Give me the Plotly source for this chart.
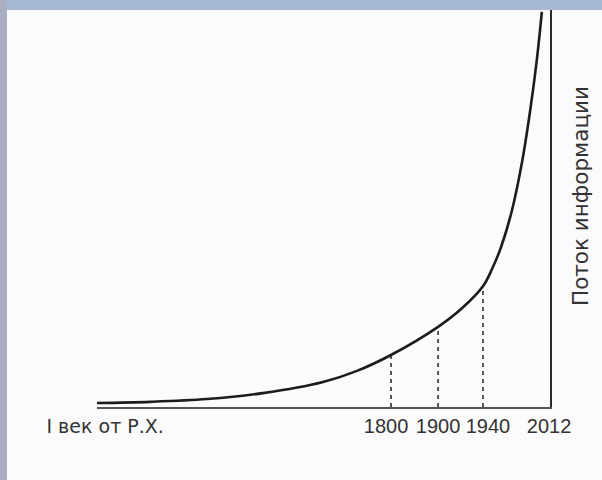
import plotly.graph_objects as go

# Schematic timeline position (0 = I век от Р.Х., 100 = 2012) and information flow (relative units)
curve_pos = [0, 11.7, 24.3, 36.6, 49.9, 57.4, 64.9, 75.3, 80.5, 85.2, 87.3, 89.2, 91.6, 93.8, 95.6, 97.1, 98.2]
curve_flow = [1.0, 1.3, 2.0, 3.5, 6.3, 9.1, 13.1, 20.2, 24.8, 30.4, 35.0, 40.3, 49.5, 61.5, 74.5, 87.5, 99.5]

# Marked years: position on timeline and flow value at that moment
mark_years = ["1800", "1900", "1940"]
mark_pos = [64.9, 75.3, 85.2]
mark_flow = [13.1, 20.2, 30.4]

# Axis labels
tick_labels = ['<span style="font-family:DejaVu Sans;font-size:19px">I век от Р.Х.</span>',
               "1800", "1900", "1940", "2012"]
tick_pos = [1.8, 63.8, 75.3, 86.3, 99.8]
y_title = "Поток информации"

fig = go.Figure()

for p, f in zip(mark_pos, mark_flow):
    fig.add_trace(go.Scatter(
        x=[p, p], y=[0, f], mode="lines",
        line=dict(color="#3a3a3a", width=1.7, dash="4px,4px"),
        hoverinfo="skip", showlegend=False,
    ))

fig.add_trace(go.Scatter(
    x=curve_pos, y=curve_flow, mode="lines",
    line=dict(color="#1c1c1c", width=2.6, shape="spline", smoothing=1.0),
    showlegend=False,
))

fig.update_layout(
    width=602, height=480,
    margin=dict(l=97, r=52, t=10, b=73),
    paper_bgcolor="#aaaec3",
    plot_bgcolor="rgba(0,0,0,0)",
    font=dict(family="Liberation Sans, Arial, sans-serif", color="#333333", size=20),
    shapes=[
        dict(type="rect", xref="paper", yref="paper", x0=-0.2, x1=1.2, y0=1.0, y1=1.03,
             fillcolor="#a6b8d2", line=dict(width=0), layer="below"),
        dict(type="rect", xref="paper", yref="paper",
             x0=-(97 - 7) / 453, x1=1 + 52 / 453, y0=-73 / 397, y1=1.0,
             fillcolor="#fbfbfb", line=dict(width=0), layer="below"),
    ],
    annotations=[
        dict(text=y_title, xref="paper", yref="paper", x=1 + 30 / 453, y=(407 - 196) / 397,
             textangle=-90, showarrow=False, xanchor="center", yanchor="middle",
             font=dict(family="DejaVu Sans", size=21.5, color="#333333")),
    ],
)

fig.update_xaxes(
    range=[0, 100], showgrid=False, zeroline=False,
    showline=True, linecolor="#555555", linewidth=1.6,
    tickmode="array", tickvals=tick_pos, ticktext=tick_labels,
    ticks="", ticklabelstandoff=0,
)
fig.update_yaxes(
    range=[0, 100], showgrid=False, zeroline=False,
    side="right", showline=True, linecolor="#2a2a2a", linewidth=1.8,
    showticklabels=False, ticks="",
)

fig.write_html(
    "out.html",
    config={"displayModeBar": False},
    post_script="document.body.style.margin='0';document.body.style.background='#aaaec3';",
)
